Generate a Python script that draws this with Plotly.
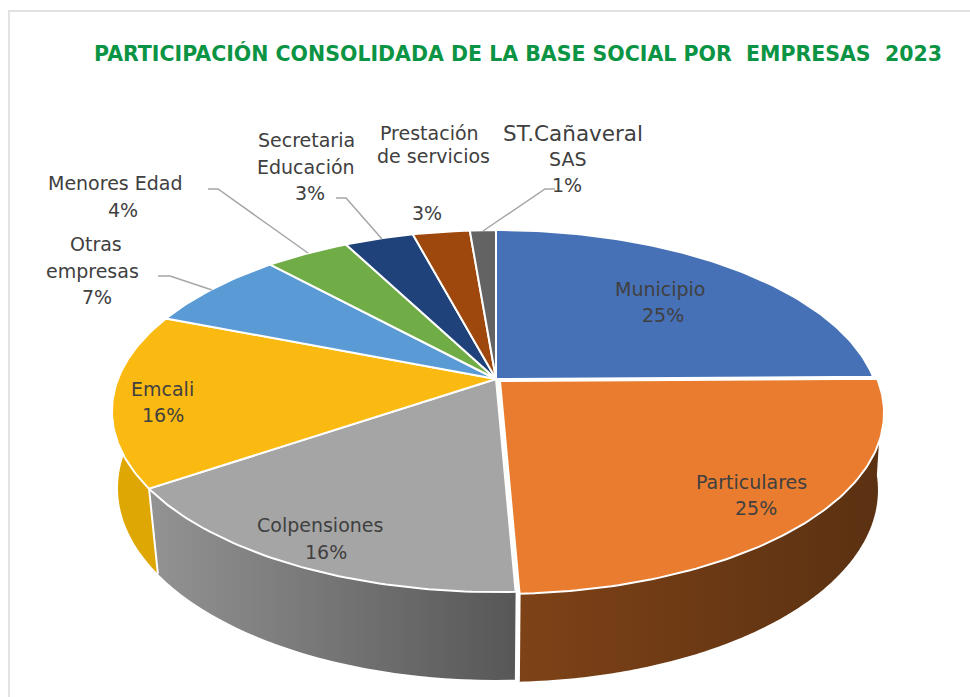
import math
import plotly.graph_objects as go

# ---- data ----
categories = ["Municipio", "Particulares", "Colpensiones", "Emcali", "Otras empresas",
              "Menores Edad", "Secretaria Educación", "Prestación de servicios", "ST.Cañaveral SAS"]
values = [24.8, 24.52, 16.16, 15.52, 7.2, 4.2, 3.45, 2.85, 1.3]
top_colors = ["#4671B6", "#E97C2F", "#A5A5A5", "#FBBA12", "#5B9BD5", "#70AD47", "#1E4279", "#9E480E", "#636363"]
exploded = [0, 1, 0, 0, 0, 0, 0, 0, 0]
wall_colors = {1: ("#7E4217", "#5A3112"), 2: ("#939393", "#575757"), 3: ("#DFA704", "#DFA704")}
label_lines = [
    ["Municipio"], ["Particulares"], ["Colpensiones"], ["Emcali"], ["Otras", "empresas"],
    ["Menores Edad"], ["Secretaria", "Educación"], ["Prestación", "de servicios"], ["ST.Cañaveral", "SAS"],
]
title = "PARTICIPACIÓN CONSOLIDADA DE LA BASE SOCIAL POR  EMPRESAS  2023"

# ---- layout / geometry ----
W, H = 970, 697
CX, CY, B, A, P = 496, 379, 378, 175.3, 0.177
EXP = (4, 2)
BOT = dict(sx=0.988, sy=1.068, dy=79.4, p=0.155)
label_xy = [
    [(660, 289), (663, 315)],
    [(751, 482), (756, 508)],
    [(320, 525), (326, 552)],
    [(162, 389), (163, 415)],
    [(96, 244), (92, 271), (97, 297)],
    [(115, 183), (123, 210)],
    [(306, 140), (306, 167), (310, 193)],
    [(429, 133), (433, 156), (427, 213)],
    [(573, 133), (567, 159), (567, 185)],
]
leaders = [
    [(158, 276), (170, 276), (212, 290)],
    [(208, 189), (218, 189), (308, 253)],
    [(336, 198), (346, 198), (382, 239)],
    [(555, 189), (545, 189), (483, 231)],
]
FONT = "DejaVu Sans"
LABEL_SIZE = 19
WIDE_LINES = {"ST.Cañaveral": 21.5}
LABEL_COLOR = "#404040"


def project(t, ox=0, oy=0, sx=1.0, sy=1.0, dy=0.0, p=P):
    X, Y = math.sin(t), math.cos(t)
    w = 1 + p * Y
    return CX + ox + sx * B * X / w, CY + oy + dy - sy * A * Y / w


total = sum(values)
edges = [0.0]
for v in values:
    edges.append(edges[-1] + v / total * 2 * math.pi)

fig = go.Figure()

# side walls (front slices only), drawn behind the top faces
for i in (3, 2, 1):
    ox, oy = EXP if exploded[i] else (0, 0)
    t0, t1 = edges[i], edges[i + 1]
    if i == 1:
        t0 = math.radians(92)
    if i == 3:
        t1 = math.radians(272)
    n = 70
    ts = [t0 + (t1 - t0) * k / n for k in range(n + 1)]
    xs, ys = [], []
    for k in range(n - 2):
        a = project(ts[k], ox, oy)
        b = project(ts[k + 3], ox, oy)
        c = project(ts[k + 3], ox, oy, **BOT)
        d = project(ts[k], ox, oy, **BOT)
        xs += [a[0], b[0], c[0], d[0], a[0], None]
        ys += [a[1], b[1], c[1], d[1], a[1], None]
    c0, c1 = wall_colors[i]
    fig.add_trace(go.Scatter(
        x=xs, y=ys, mode="none", fill="toself", hoverinfo="skip", showlegend=False,
        line=dict(simplify=False),
        fillgradient=dict(type="horizontal", colorscale=[[0, c0], [1, c1]]),
    ))
    # white vertical edge at the slice boundary
    if i in (1, 2):
        p, q = project(edges[i + 1], ox, oy), project(edges[i + 1], ox, oy, **BOT)
        fig.add_trace(go.Scatter(x=[p[0], q[0]], y=[p[1], q[1]], mode="lines", hoverinfo="skip",
                                 showlegend=False, line=dict(color="white", width=2)))
        if i == 1:
            p, q = project(edges[2], ox, oy), project(edges[2], ox, oy, **BOT)
            fig.add_trace(go.Scatter(x=[p[0] - 2, q[0] - 2], y=[p[1], q[1]], mode="lines", hoverinfo="skip",
                                     showlegend=False, line=dict(color="white", width=2)))

# top faces
order = [i for i in range(len(values)) if not exploded[i]] + [i for i in range(len(values)) if exploded[i]]
for i in order:
    ox, oy = EXP if exploded[i] else (0, 0)
    n = max(8, int(values[i] * 4))
    pts = [project(edges[i] + (edges[i + 1] - edges[i]) * k / n, ox, oy) for k in range(n + 1)]
    c = (CX + ox, CY + oy)
    xs = [c[0]] + [p[0] for p in pts] + [c[0]]
    ys = [c[1]] + [p[1] for p in pts] + [c[1]]
    fig.add_trace(go.Scatter(
        x=xs, y=ys, mode="lines", fill="toself", fillcolor=top_colors[i], name=categories[i],
        line=dict(color="white", width=2), hoverinfo="name", showlegend=False,
    ))

# leader lines
for seg in leaders:
    fig.add_trace(go.Scatter(x=[p[0] for p in seg], y=[p[1] for p in seg], mode="lines",
                             hoverinfo="skip", showlegend=False,
                             line=dict(color="#A6A6A6", width=1.5)))

# labels, one annotation per printed line
annotations = []
for i, lines in enumerate(label_lines):
    texts = lines + [f"{round(values[i] / total * 100)}%"]
    for txt, (x, y) in zip(texts, label_xy[i]):
        annotations.append(dict(x=x, y=y, xref="x", yref="y", text=txt, showarrow=False,
                                xanchor="center", yanchor="middle",
                                font=dict(family=FONT, size=WIDE_LINES.get(txt, LABEL_SIZE), color=LABEL_COLOR)))
annotations.append(dict(x=518, y=53, xref="x", yref="y", text=f"<b>{title}</b>", showarrow=False,
                        xanchor="center", yanchor="middle",
                        font=dict(family=FONT, size=20.5, color="#0B9444")))

fig.update_layout(
    width=W, height=H, margin=dict(l=0, r=0, t=0, b=0),
    paper_bgcolor="white", plot_bgcolor="white",
    xaxis=dict(range=[0, W], visible=False, fixedrange=True),
    yaxis=dict(range=[H, 0], visible=False, fixedrange=True),
    annotations=annotations,
    shapes=[dict(type="path", path=f"M 9 {H} L 9 11 L {W} 11", xref="x", yref="y",
                 line=dict(color="#E2E2E2", width=2))],
)

fig.write_html("out.html", config={"displayModeBar": False},
               post_script="document.body.style.margin='0';document.body.style.overflow='hidden';")
